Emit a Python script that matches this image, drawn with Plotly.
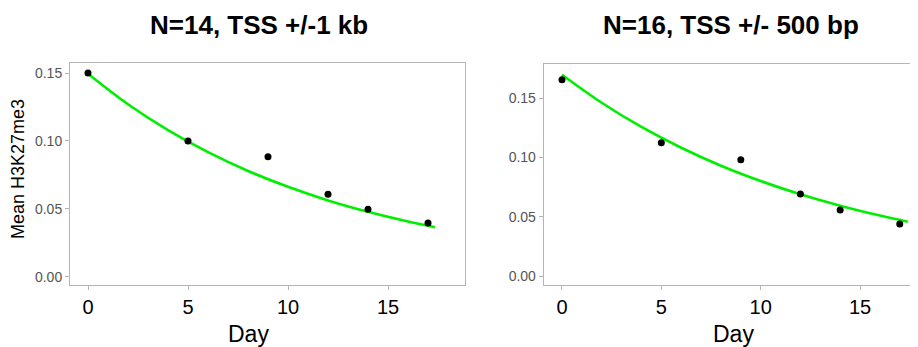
import plotly.graph_objects as go

# ---- data ----
day = [0, 5, 9, 12, 14, 17]
mean_1kb = [0.150, 0.100, 0.0884, 0.0607, 0.0496, 0.0395]
mean_500bp = [0.1655, 0.1125, 0.0982, 0.0693, 0.0558, 0.0440]

fit_day_1kb = [0, 2, 4, 6, 8, 10, 12, 14, 16, 17.35]
fit_1kb = [0.1495, 0.1270, 0.1079, 0.0917, 0.0779, 0.0662, 0.0562, 0.0478, 0.0406, 0.0364]
fit_day_500bp = [0, 2, 4, 6, 8, 10, 12, 14, 16, 17.4]
fit_500bp = [0.1697, 0.1461, 0.1257, 0.1082, 0.0931, 0.0802, 0.0690, 0.0594, 0.0511, 0.0460]

titles = ["N=14, TSS +/-1 kb", "N=16, TSS +/- 500 bp"]
x_title = "Day"
y_title = "Mean H3K27me3"
x_ticks = [0, 5, 10, 15]
y_ticks = [0.00, 0.05, 0.10, 0.15]
y_ticklabels = ["0.00", "0.05", "0.10", "0.15"]

W, H = 918, 347
FONT = "Liberation Sans, Arial, sans-serif"
GREEN = "#00ee00"
BOX = "#b5b5b5"

fig = go.Figure()

for i, (fx, fy, px, py) in enumerate([(fit_day_1kb, fit_1kb, day, mean_1kb),
                                      (fit_day_500bp, fit_500bp, day, mean_500bp)]):
    xa = "x" if i == 0 else "x2"
    ya = "y" if i == 0 else "y2"
    fig.add_trace(go.Scatter(x=fx, y=fy, mode="lines", line=dict(color=GREEN, width=2.6, shape="spline"),
                             xaxis=xa, yaxis=ya, showlegend=False, hoverinfo="skip"))
    fig.add_trace(go.Scatter(x=px, y=py, mode="markers", marker=dict(color="black", size=7),
                             xaxis=xa, yaxis=ya, showlegend=False))

def px2x(p):
    return p / W

def px2y(p):
    return 1 - p / H

common_x = dict(tickvals=x_ticks, ticks="outside", ticklen=4, tickcolor=BOX, tickwidth=1,
                showline=True, linecolor=BOX, linewidth=1, mirror=True, showgrid=False, zeroline=False,
                tickfont=dict(family=FONT, size=20, color="black"))
common_y = dict(tickvals=y_ticks, ticktext=y_ticklabels, ticks="outside", ticklen=4, tickcolor=BOX,
                tickwidth=1, showline=True, linecolor=BOX, linewidth=1, showgrid=False, zeroline=False,
                tickfont=dict(family=FONT, size=14, color="#555555"))

fig.update_layout(
    width=W, height=H,
    margin=dict(l=0, r=0, t=0, b=0),
    paper_bgcolor="white", plot_bgcolor="white",
    xaxis=dict(domain=[px2x(62), px2x(457)], range=[-0.9, 18.85], anchor="y", **common_x),
    yaxis=dict(domain=[px2y(277), px2y(55)], range=[-0.0061, 0.1574], anchor="x", mirror=True, **common_y),
    xaxis2=dict(domain=[px2x(535.7), 1.0], range=[-0.92, 18.32], anchor="y2", **common_x),
    yaxis2=dict(domain=[px2y(276.7), px2y(56)], range=[-0.00707, 0.1787], anchor="x2", mirror=False, **common_y),
    showlegend=False,
)

annotations = [
    dict(text="<b>%s</b>" % titles[0], x=px2x(251), y=px2y(17)),
    dict(text="<b>%s</b>" % titles[1], x=px2x(723), y=px2y(17)),
]
for a in annotations:
    a.update(xref="paper", yref="paper", showarrow=False, xanchor="center", yanchor="middle",
             font=dict(family=FONT, size=26, color="black"))
for cx in (240, 725):
    annotations.append(dict(text=x_title, x=px2x(cx), y=px2y(326), xref="paper", yref="paper",
                            showarrow=False, xanchor="center", yanchor="middle",
                            font=dict(family=FONT, size=23, color="black")))
annotations.append(dict(text=y_title, x=px2x(10), y=px2y(161), xref="paper", yref="paper",
                        showarrow=False, xanchor="center", yanchor="middle", textangle=-90,
                        font=dict(family=FONT, size=18, color="black")))
fig.update_layout(annotations=annotations)

fig.write_html("out.html")
